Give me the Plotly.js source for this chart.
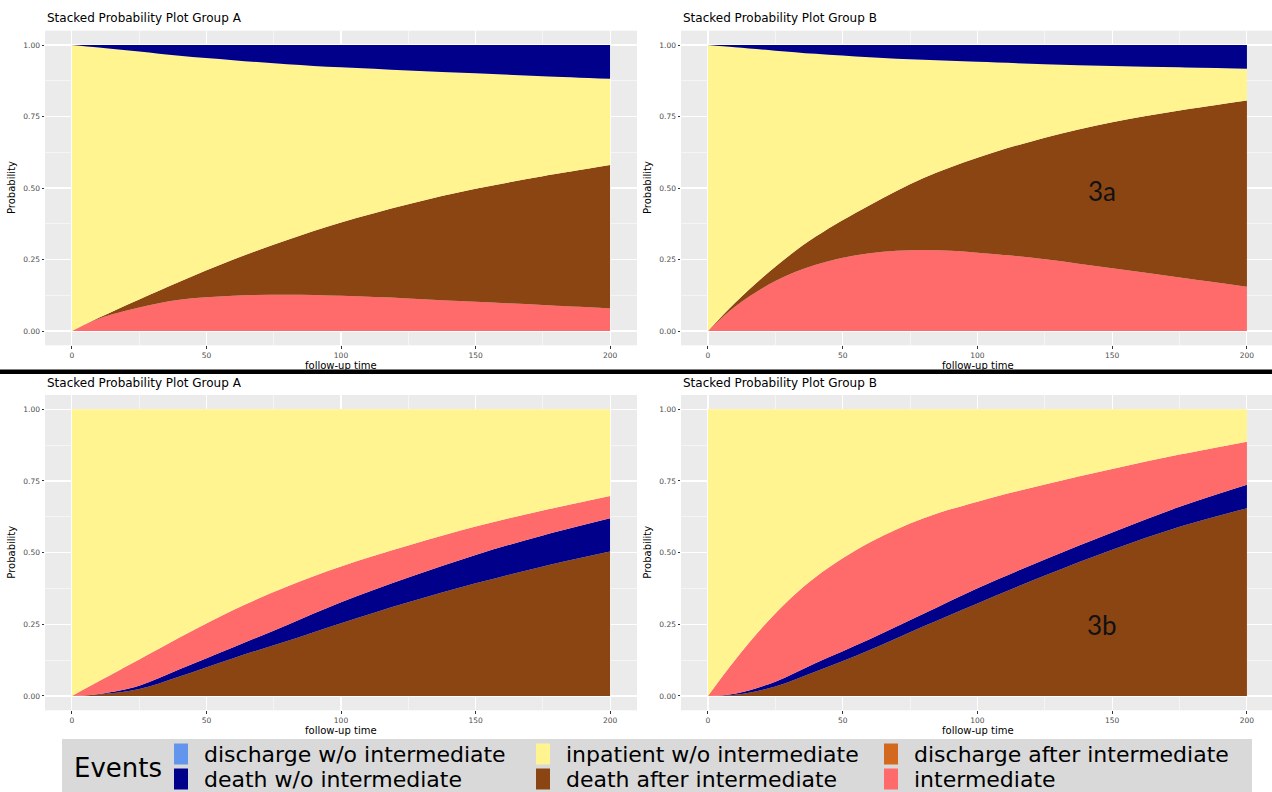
<!DOCTYPE html>
<html>
<head>
<meta charset="utf-8">
<script src="https://cdn.plot.ly/plotly-3.0.1.min.js"></script>
<style>
html,body{margin:0;padding:0;background:#fff;}
#chart{width:1272px;height:792px;}
</style>
</head>
<body>
<div id="chart"></div>
<script>
// ---------------- DATA ----------------
const time = [0, 10, 25, 40, 60, 80, 100, 125, 150, 175, 200];

// Panel 3a, Group A
const a3_intermediate = [0, 0.043, 0.082, 0.109, 0.123, 0.127, 0.123, 0.114, 0.102, 0.091, 0.079];
const a3_deathAfter   = [0, 0.003, 0.028, 0.063, 0.127, 0.191, 0.256, 0.329, 0.395, 0.450, 0.501];
const a3_inpatient    = [1, 0.945, 0.867, 0.790, 0.697, 0.615, 0.543, 0.468, 0.404, 0.350, 0.302];
const a3_deathWo      = [0, 0.009, 0.023, 0.038, 0.053, 0.067, 0.078, 0.089, 0.099, 0.109, 0.118];

// Panel 3a, Group B
const b3_intermediate = [0, 0.085, 0.175, 0.232, 0.272, 0.283, 0.274, 0.251, 0.219, 0.187, 0.155];
const b3_deathAfter   = [0, 0.013, 0.050, 0.098, 0.168, 0.252, 0.332, 0.425, 0.511, 0.584, 0.651];
const b3_inpatient    = [1, 0.894, 0.755, 0.639, 0.517, 0.413, 0.335, 0.257, 0.197, 0.151, 0.111];
const b3_deathWo      = [0, 0.008, 0.020, 0.031, 0.043, 0.052, 0.059, 0.067, 0.073, 0.078, 0.083];

// Panel 3b, Group A
const a4_deathAfter   = [0, 0.005, 0.024, 0.068, 0.132, 0.192, 0.254, 0.327, 0.393, 0.452, 0.504];
const a4_deathWo      = [0, 0.002, 0.012, 0.025, 0.038, 0.056, 0.073, 0.086, 0.099, 0.108, 0.116];
const a4_intermediate = [0, 0.044, 0.091, 0.111, 0.130, 0.134, 0.125, 0.112, 0.099, 0.087, 0.078];
const a4_inpatient    = [1, 0.949, 0.873, 0.796, 0.700, 0.618, 0.548, 0.475, 0.409, 0.353, 0.302];

// Panel 3b, Group B
const b4_deathAfter   = [0, 0.004, 0.033, 0.085, 0.160, 0.243, 0.323, 0.420, 0.510, 0.590, 0.655];
const b4_deathWo      = [0, 0.004, 0.017, 0.030, 0.038, 0.044, 0.053, 0.056, 0.060, 0.070, 0.082];
const b4_intermediate = [0, 0.117, 0.238, 0.300, 0.337, 0.333, 0.302, 0.262, 0.222, 0.182, 0.150];
const b4_inpatient    = [1, 0.875, 0.712, 0.585, 0.465, 0.380, 0.322, 0.262, 0.208, 0.158, 0.113];

const xTicks = [0, 50, 100, 150, 200];
const yTicks = [0, 0.25, 0.5, 0.75, 1];
const panelTitles = ["Stacked Probability Plot Group A", "Stacked Probability Plot Group B",
                     "Stacked Probability Plot Group A", "Stacked Probability Plot Group B"];
const panelLabels = ["3a", "3b"];
const xTitle = "follow-up time";
const yTitle = "Probability";
const legendTitle = "Events";
const legendNames = ["discharge w/o intermediate", "death w/o intermediate",
                     "inpatient w/o intermediate", "death after intermediate",
                     "discharge after intermediate", "intermediate"];
const legendColors = ["#6495ED", "#00008B", "#FFF48F", "#8B4513", "#D2691E", "#FF6A6A"];

// ---------------- HELPERS ----------------
const W = 1272, H = 792;
const px = v => v / W;
const py = v => 1 - v / H;
const colorOf = name => legendColors[legendNames.indexOf(name)];

function area(x, y, name, xa, ya, group) {
  return {
    type: 'scatter', mode: 'lines', x: x, y: y, name: name,
    stackgroup: group, xaxis: xa, yaxis: ya,
    line: {width: 0, shape: 'spline', smoothing: 1},
    fillcolor: colorOf(name), showlegend: false, hoverinfo: 'skip'
  };
}

const traces = [
  // top-left (bottom → top)
  area(time, a3_intermediate, "intermediate", 'x', 'y', 'p1'),
  area(time, a3_deathAfter, "death after intermediate", 'x', 'y', 'p1'),
  area(time, a3_inpatient, "inpatient w/o intermediate", 'x', 'y', 'p1'),
  area(time, a3_deathWo, "death w/o intermediate", 'x', 'y', 'p1'),
  // top-right
  area(time, b3_intermediate, "intermediate", 'x2', 'y2', 'p2'),
  area(time, b3_deathAfter, "death after intermediate", 'x2', 'y2', 'p2'),
  area(time, b3_inpatient, "inpatient w/o intermediate", 'x2', 'y2', 'p2'),
  area(time, b3_deathWo, "death w/o intermediate", 'x2', 'y2', 'p2'),
  // bottom-left
  area(time, a4_deathAfter, "death after intermediate", 'x3', 'y3', 'p3'),
  area(time, a4_deathWo, "death w/o intermediate", 'x3', 'y3', 'p3'),
  area(time, a4_intermediate, "intermediate", 'x3', 'y3', 'p3'),
  area(time, a4_inpatient, "inpatient w/o intermediate", 'x3', 'y3', 'p3'),
  // bottom-right
  area(time, b4_deathAfter, "death after intermediate", 'x4', 'y4', 'p4'),
  area(time, b4_deathWo, "death w/o intermediate", 'x4', 'y4', 'p4'),
  area(time, b4_intermediate, "intermediate", 'x4', 'y4', 'p4'),
  area(time, b4_inpatient, "inpatient w/o intermediate", 'x4', 'y4', 'p4')
];

// panel geometry (pixels)
const panels = [
  {x0: 45,  x1: 637,  y0: 30.7,  y1: 345.3, xr: [-10, 210],   tx: 18},
  {x0: 681, x1: 1272, y0: 30.7,  y1: 345.3, xr: [-10, 209.3], tx: 18},
  {x0: 45,  x1: 637,  y0: 395,   y1: 710.3, xr: [-10, 210],   tx: 383},
  {x0: 681, x1: 1272, y0: 395,   y1: 710.3, xr: [-10, 209.3], tx: 383}
];

const tickFont = {family: 'DejaVu Sans', size: 7.5, color: '#4d4d4d'};
const layout = {
  width: W, height: H,
  margin: {l: 0, r: 0, t: 0, b: 0},
  paper_bgcolor: '#ffffff',
  plot_bgcolor: '#EBEBEB',
  showlegend: false,
  hovermode: false,
  font: {family: 'DejaVu Sans', color: '#000'},
  annotations: [],
  shapes: []
};

panels.forEach((p, i) => {
  const s = i === 0 ? '' : String(i + 1);
  layout['xaxis' + s] = {
    domain: [px(p.x0), px(p.x1)], range: p.xr, anchor: 'y' + s,
    tickmode: 'array', tickvals: xTicks, ticktext: xTicks.map(String),
    showgrid: true, gridcolor: '#ffffff', gridwidth: 1.1,
    minor: {tickmode: 'linear', tick0: 25, dtick: 50, showgrid: true, gridcolor: '#ffffff', gridwidth: 0.5, ticks: ''},
    zeroline: false, showline: false,
    ticks: 'outside', ticklen: 2.5, tickwidth: 1, tickcolor: '#333333',
    tickfont: tickFont, fixedrange: true
  };
  layout['yaxis' + s] = {
    domain: [py(p.y1), py(p.y0)], range: [-0.05, 1.05], anchor: 'x' + s,
    tickmode: 'array', tickvals: yTicks, ticktext: yTicks.map(v => v.toFixed(2)),
    showgrid: true, gridcolor: '#ffffff', gridwidth: 1.1,
    minor: {tickmode: 'linear', tick0: 0.125, dtick: 0.25, showgrid: true, gridcolor: '#ffffff', gridwidth: 0.5, ticks: ''},
    zeroline: false, showline: false,
    ticks: 'outside', ticklen: 2.5, tickwidth: 1, tickcolor: '#333333',
    tickfont: tickFont, fixedrange: true
  };
  // panel title
  layout.annotations.push({
    text: panelTitles[i], xref: 'paper', yref: 'paper',
    x: px(p.x0), y: py(p.tx), xanchor: 'left', yanchor: 'middle',
    showarrow: false, font: {family: 'DejaVu Sans', size: 12, color: '#000'}
  });
  // axis titles
  const xMid = (p.x0 + 27 + (p.x0 === 45 ? 610 : 1247)) / 2;
  layout.annotations.push({
    text: xTitle, xref: 'paper', yref: 'paper',
    x: px(xMid), y: py(p.y1 + 20), xanchor: 'center', yanchor: 'middle',
    showarrow: false, font: {family: 'DejaVu Sans', size: 10, color: '#000'}
  });
  layout.annotations.push({
    text: yTitle, xref: 'paper', yref: 'paper', textangle: -90,
    x: px(p.x0 - 33), y: py((p.y0 + p.y1) / 2), xanchor: 'center', yanchor: 'middle',
    showarrow: false, font: {family: 'DejaVu Sans', size: 10, color: '#000'}
  });
});

// panel labels 3a / 3b
layout.annotations.push({text: panelLabels[0], xref: 'paper', yref: 'paper', x: px(1102), y: py(191),
  xanchor: 'center', yanchor: 'middle', showarrow: false, font: {family: 'Lato', size: 26, color: '#111'}});
layout.annotations.push({text: panelLabels[1], xref: 'paper', yref: 'paper', x: px(1102), y: py(625),
  xanchor: 'center', yanchor: 'middle', showarrow: false, font: {family: 'Lato', size: 26, color: '#111'}});

// separator line
layout.shapes.push({type: 'line', xref: 'paper', yref: 'paper', x0: 0, x1: 1, y0: py(371.7), y1: py(371.7),
  line: {color: '#000', width: 4.5}});

// legend box
layout.shapes.push({type: 'rect', xref: 'paper', yref: 'paper', x0: px(62), x1: px(1252), y0: py(792), y1: py(739),
  fillcolor: '#D9D9D9', line: {width: 0}, layer: 'below'});
layout.annotations.push({text: legendTitle, xref: 'paper', yref: 'paper', x: px(72), y: py(768),
  xanchor: 'left', yanchor: 'middle', showarrow: false, font: {family: 'DejaVu Sans', size: 26, color: '#000'}});
const colKeyX = [174, 536, 884];
const rowMid = [754, 779];
legendNames.forEach((nm, k) => {
  const c = Math.floor(k / 2), r = k % 2;
  layout.shapes.push({type: 'rect', xref: 'paper', yref: 'paper',
    x0: px(colKeyX[c]), x1: px(colKeyX[c] + 14), y0: py(rowMid[r] + 10.5), y1: py(rowMid[r] - 10.5),
    fillcolor: legendColors[k], line: {width: 0}});
  layout.annotations.push({text: nm, xref: 'paper', yref: 'paper',
    x: px(colKeyX[c] + 28), y: py(rowMid[r]), xanchor: 'left', yanchor: 'middle',
    showarrow: false, font: {family: 'DejaVu Sans', size: 22, color: '#000'}});
});

Plotly.newPlot('chart', traces, layout, {staticPlot: true, displayModeBar: false});
</script>
</body>
</html>
